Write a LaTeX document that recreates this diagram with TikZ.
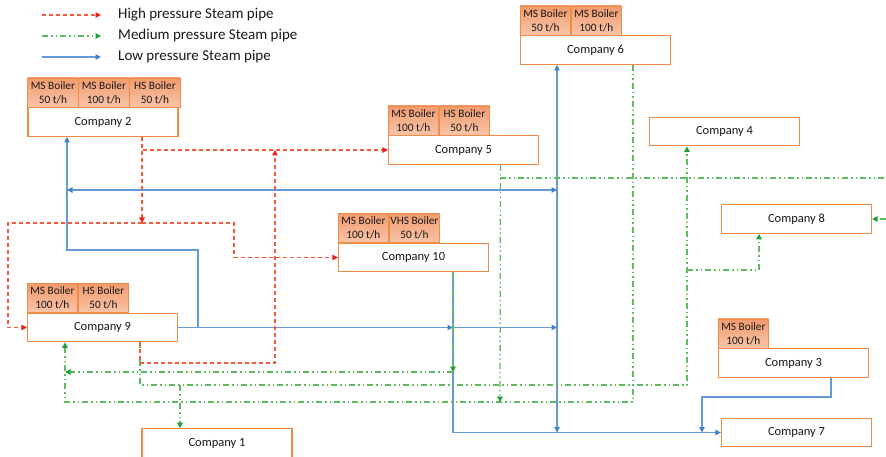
\documentclass[tikz,border=0pt]{standalone}
\usepackage{fontspec}
\setmainfont{Carlito}
\usetikzlibrary{arrows.meta}
\definecolor{boxor}{RGB}{240,140,70}
\definecolor{boilA}{RGB}{241,155,110}
\definecolor{boilB}{RGB}{248,196,168}
\definecolor{hpred}{RGB}{242,90,60}
\definecolor{hphead}{RGB}{232,35,30}
\definecolor{mpgreen}{RGB}{95,185,95}
\definecolor{mphead}{RGB}{30,160,60}
\definecolor{lpblue}{RGB}{100,155,215}
\definecolor{lphead}{RGB}{70,130,200}
\tikzset{
  company/.style={draw=boxor, line width=1.2pt, fill=white, minimum width=150pt, minimum height=28.5pt, inner sep=0pt, font=\fontsize{12.5}{14}\selectfont, text=black!90},
  boiler/.style={draw=boxor, line width=0.5pt, top color=boilA, bottom color=boilB, minimum width=50.5pt, minimum height=29pt, inner sep=0pt, align=center, font=\fontsize{11.3}{14}\selectfont, text=black!90},
  legendtext/.style={anchor=west, inner sep=0pt, font=\fontsize{15}{17}\selectfont, text=black!90},
  hpline/.style={draw=hpred, line width=1.4pt, dash pattern=on 4pt off 3pt},
  mpline/.style={draw=mpgreen, line width=1.3pt, dash pattern=on 6pt off 3pt on 1.5pt off 3pt on 1.5pt off 3pt},
  lpline/.style={draw=lpblue, line width=1.2pt},
  hptip/.style={-{Triangle[length=5.5pt,width=5.5pt,color=hphead]}},
  mptip/.style={-{Triangle[length=5.5pt,width=5.5pt,color=mphead]}},
  lptip/.style={-{Triangle[length=5.5pt,width=5.5pt,color=lphead]}},
  lptips/.style={{Triangle[length=5.5pt,width=5.5pt,color=lphead]}-{Triangle[length=5.5pt,width=5.5pt,color=lphead]}},
}
\begin{document}
\begin{tikzpicture}[x=1pt,y=-1pt]
\fill[white] (0,0) rectangle (886,457);
\useasboundingbox (0,0) rectangle (886,457);

% legend
\coordinate (l1a) at (42,15); \coordinate (l1b) at (101,15);
\coordinate (l2a) at (42,36); \coordinate (l2b) at (101,36);
\coordinate (l3a) at (42,57); \coordinate (l3b) at (101,57);
\draw[hpline,hptip] (l1a) -- (l1b);
\draw[mpline,mptip] (l2a) -- (l2b);
\draw[lpline,lptip] (l3a) -- (l3b);
\node[legendtext] (t1) at (118,15) {High pressure Steam pipe};
\node[legendtext] (t2) at (118,36) {Medium pressure Steam pipe};
\node[legendtext] (t3) at (118,57) {Low pressure Steam pipe};

\coordinate (rs) at (142,223);

% companies
\node[company] (c2) at (103,122) {Company 2};
\node[company] (c5) at (463.5,150) {Company 5};
\node[company] (c10) at (413.5,257.5) {Company 10};
\node[company] (c6) at (595.5,50) {Company 6};
\node[company] (c4) at (724.5,131.5) {Company 4};
\node[company] (c8) at (796.5,219) {Company 8};
\node[company] (c9) at (102.5,327.5) {Company 9};
\node[company] (c1) at (217,443) {Company 1};
\node[company] (c3) at (793.5,363) {Company 3};
\node[company] (c7) at (796.5,432.5) {Company 7};

% boilers
\node[boiler, anchor=south west] (c2b1) at (c2.north west) {MS Boiler\\50 t/h};
\node[boiler, anchor=west] (c2b2) at (c2b1.east) {MS Boiler\\100 t/h};
\node[boiler, anchor=west] (c2b3) at (c2b2.east) {HS Boiler\\50 t/h};
\node[boiler, anchor=south west] (c5b1) at (c5.north west) {MS Boiler\\100 t/h};
\node[boiler, anchor=west] (c5b2) at (c5b1.east) {HS Boiler\\50 t/h};
\node[boiler, anchor=south west] (c10b1) at (c10.north west) {MS Boiler\\100 t/h};
\node[boiler, anchor=west] (c10b2) at (c10b1.east) {VHS Boiler\\50 t/h};
\node[boiler, anchor=south west] (c6b1) at (c6.north west) {MS Boiler\\50 t/h};
\node[boiler, anchor=west] (c6b2) at (c6b1.east) {MS Boiler\\100 t/h};
\node[boiler, anchor=south west] (c9b1) at (c9.north west) {MS Boiler\\100 t/h};
\node[boiler, anchor=west] (c9b2) at (c9b1.east) {HS Boiler\\50 t/h};
\node[boiler, anchor=south west] (c3b1) at (c3.north west) {MS Boiler\\100 t/h};

% ---- low pressure (blue)
\draw[lpline,lptip] (c9.east) -- (453,327.5);
\draw[lpline,lptip] (453,327.5) -- (557,327.5);
\draw[lpline,lptip] (198,327.5) |- (67,250) -- ([xshift=-36pt]c2.south);
\draw[lpline,lptips] (67,190) -- (557,190);
\draw[lpline,lptips] ([xshift=-38.5pt]c6.south) -- (557,432.5);
\draw[lpline,lptip] ([xshift=39.5pt]c10.south) |- (c7.west);
\draw[lpline,lptip] ([xshift=37.5pt]c3.south) |- (702,397) -- (702,432.5);

% ---- medium pressure (green)
\draw[mpline,mptip] ([xshift=37pt]c5.south) -- (500,402);
\draw[mpline] (500,178) -- (886,178);
\draw[mpline,mptip] ([xshift=37.5pt]c9.south) |- (687,385) -- ([xshift=-37.5pt]c4.south);
\draw[mpline,mptip] (687,270) -| ([xshift=-37.5pt]c8.south);
\draw[mpline,mptip] (886,219) -- (c8.east);
\draw[mpline,mptip] ([xshift=37.5pt]c6.south) |- (65,402) -- ([xshift=-37.5pt]c9.south);
\draw[mpline,mptip,line width=1.7pt] ([xshift=39.5pt]c10.south) -- (453,372);
\draw[mpline,mptip,line width=1.7pt] (453,372) -- (65,372);
\draw[mpline,mptip] (180,385) -- ([xshift=-37pt]c1.north);

% ---- high pressure (red)
\draw[hpline,hptip] ([xshift=39pt]c2.south) |- (c5.west);
\draw[hpline,hptip] ([xshift=39pt]c2.south) -- (rs);
\draw[hpline,hptip] (rs) -- (8,223) |- (c9.west);
\draw[hpline,hptip] (rs) -- (234,223) |- (c10.west);
\draw[hpline,hptip] ([xshift=37.5pt]c9.south) |- (275,363) -- (275,150);
\end{tikzpicture}
\end{document}
